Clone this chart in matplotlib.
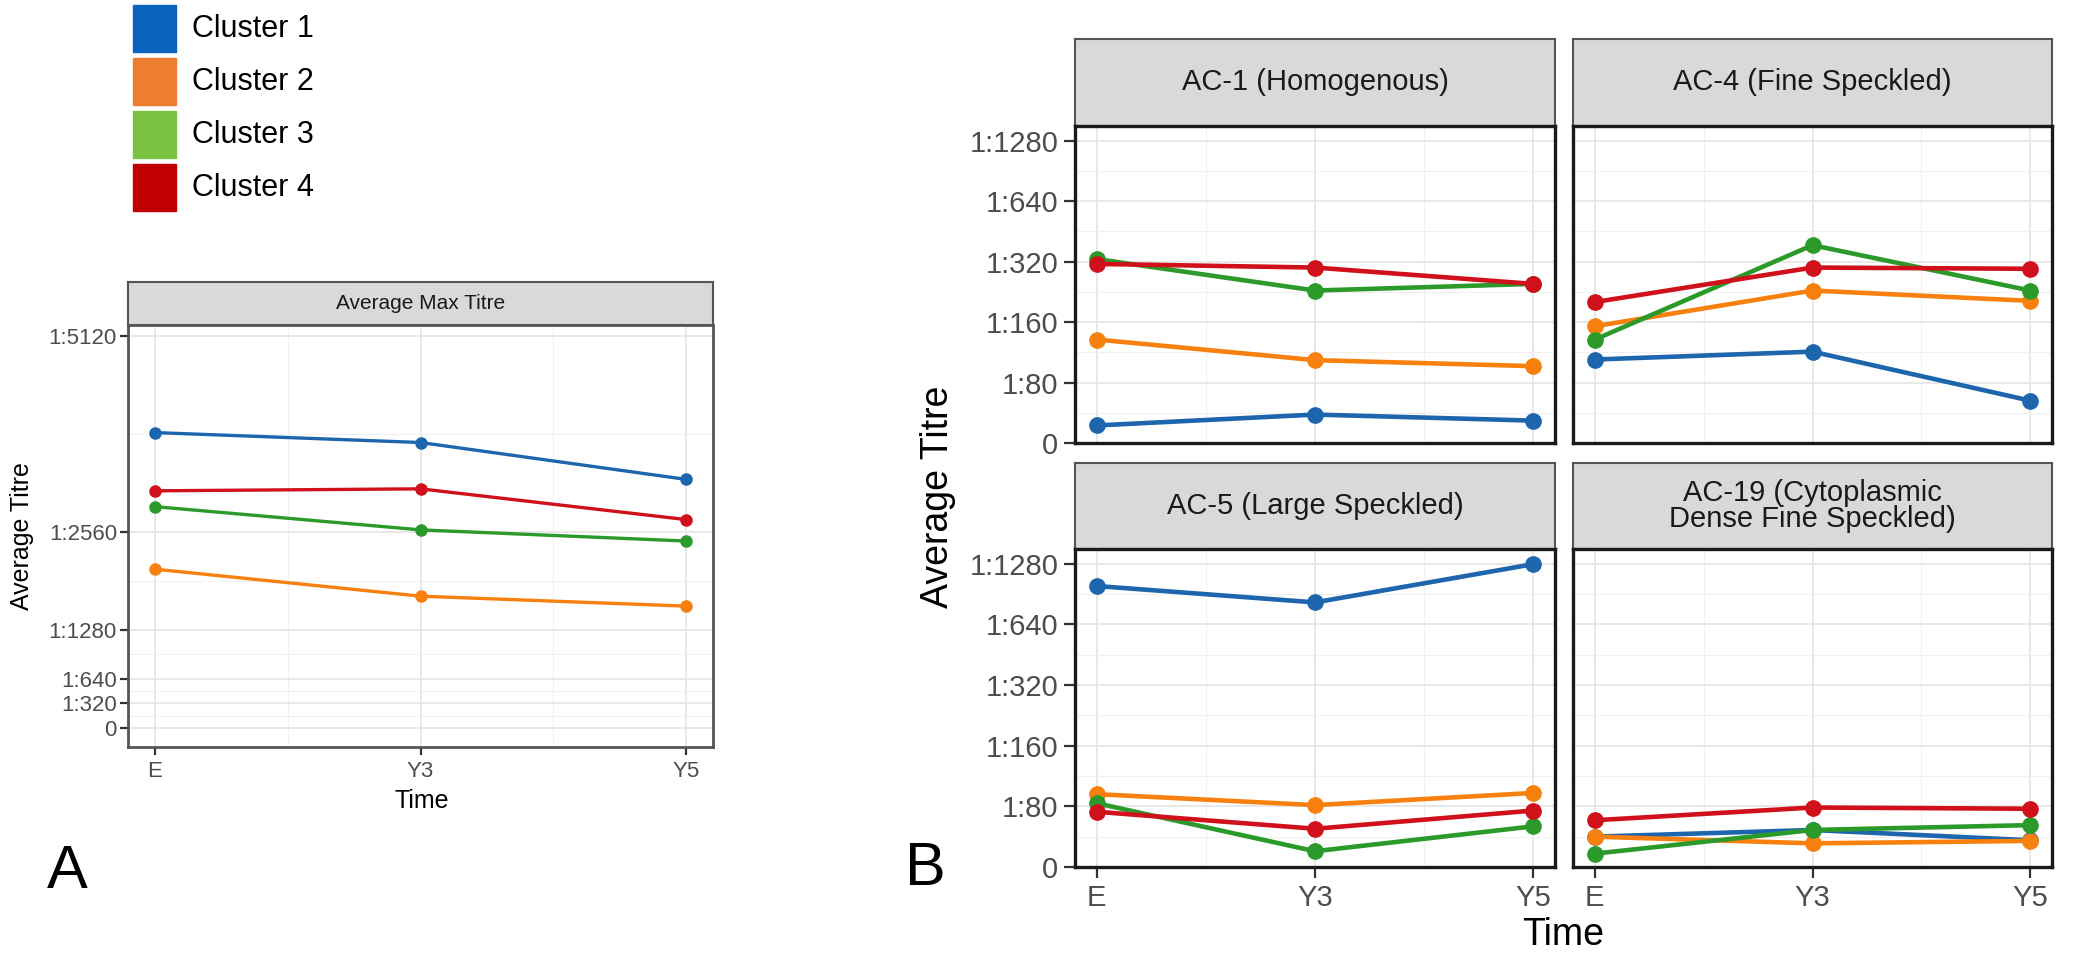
import matplotlib
matplotlib.use("Agg")
from matplotlib import pyplot as plt
from matplotlib.patches import Rectangle
import numpy as np

plt.rcParams['font.family'] = ['Liberation Sans', 'DejaVu Sans']

#### Data
Time_Points = ['E', 'Y3', 'Y5']
Clusters = ['Cluster 1', 'Cluster 2', 'Cluster 3', 'Cluster 4']
Legend_Colors = ['#0a64c0', '#ed7d31', '#7cc242', '#c00000']
Line_Colors = ['#1d65ad', '#f8800f', '#2b9a2b', '#d0101a']

# Panel A: average max titre (reciprocal dilution), one list per cluster
MaxTitre_C1 = [3857, 3727, 3245]
MaxTitre_C2 = [2073, 1720, 1590]
MaxTitre_C3 = [2890, 2586, 2440]
MaxTitre_C4 = [3096, 3122, 2720]
A_Ticks = [0, 320, 640, 1280, 2560, 5120]
A_Tick_Labels = ['0', '1:320', '1:640', '1:1280', '1:2560', '1:5120']

# Panel B: average titre on the dilution step axis (0, 1:80, 1:160, ...)
B_Ticks = [0, 1, 2, 3, 4, 5]
B_Tick_Labels = ['0', '1:80', '1:160', '1:320', '1:640', '1:1280']
Pattern_Names = ['AC-1 (Homogenous)', 'AC-4 (Fine Speckled)',
                 'AC-5 (Large Speckled)', 'AC-19 (Cytoplasmic\nDense Fine Speckled)']
AC1 = [[0.29, 0.47, 0.37], [1.71, 1.37, 1.27], [3.04, 2.52, 2.63], [2.96, 2.90, 2.63]]
AC4 = [[1.38, 1.51, 0.70], [1.93, 2.52, 2.35], [1.71, 3.27, 2.52], [2.33, 2.90, 2.88]]
AC5 = [[4.63, 4.36, 4.99], [1.20, 1.02, 1.22], [1.05, 0.26, 0.67], [0.91, 0.63, 0.93]]
AC19 = [[0.50, 0.61, 0.44], [0.50, 0.39, 0.43], [0.22, 0.61, 0.69], [0.77, 0.98, 0.96]]

#### Figure
W, H = 2085, 963
fig = plt.figure(figsize=(W / 100, H / 100), dpi=100)


def px_axes(x0, y0, x1, y1):
    return fig.add_axes([x0 / W, 1 - y1 / H, (x1 - x0) / W, (y1 - y0) / H])


def strip(x0, y0, x1, y1, label, fs):
    ax = px_axes(x0, y0, x1, y1)
    ax.set_facecolor('#d9d9d9')
    ax.set_xticks([])
    ax.set_yticks([])
    for s in ax.spines.values():
        s.set_color('#555555')
        s.set_linewidth(1.5)
    ax.text(0.5, 0.5, label, ha='center', va='center', fontsize=fs,
            color='#1a1a1a', linespacing=0.95, transform=ax.transAxes)
    return ax


def style_panel(ax, ticks, minor, tick_fs, tick_len, border_lw, border_c):
    ax.set_facecolor('white')
    ax.set_xticks([0, 1, 2])
    ax.set_xticks([0.5, 1.5], minor=True)
    ax.set_yticks(ticks)
    ax.set_yticks(minor, minor=True)
    ax.grid(which='major', color='#e6e6e6', lw=1.3)
    ax.grid(which='minor', color='#f0f0f0', lw=0.8)
    ax.set_axisbelow(True)
    ax.tick_params(which='major', length=tick_len, width=1.6, color='#333333',
                   labelsize=tick_fs, labelcolor='#4d4d4d')
    ax.tick_params(which='minor', length=0)
    for s in ax.spines.values():
        s.set_color(border_c)
        s.set_linewidth(border_lw)


#### Legend (top left)
leg = fig.add_axes([0, 0, 1, 1])
leg.set_xlim(0, W)
leg.set_ylim(H, 0)
leg.axis('off')
leg_tops = [5, 58, 111, 164]
for i in range(len(Clusters)):
    leg.add_patch(Rectangle((133, leg_tops[i]), 43, 47, color=Legend_Colors[i]))
    leg.text(192, leg_tops[i] + 24, Clusters[i], fontsize=22, va='center', ha='left')
leg.text(47, 888, 'A', fontsize=44, ha='left', va='baseline')
leg.text(905, 885, 'B', fontsize=44, ha='left', va='baseline')

#### Panel A
strip(128, 282, 713, 325, 'Average Max Titre', 15)
axA = px_axes(128, 325, 713, 747)
A_minor = [(A_Ticks[i] + A_Ticks[i + 1]) / 2 for i in range(len(A_Ticks) - 1)]
style_panel(axA, A_Ticks, A_minor, 16, 6, 2.0, '#555555')
axA.set_yticklabels(A_Tick_Labels)
axA.set_xticklabels(Time_Points)
axA.tick_params(axis='y', pad=2)
axA.tick_params(axis='x', pad=4)
for i, vals in enumerate([MaxTitre_C1, MaxTitre_C2, MaxTitre_C3, MaxTitre_C4]):
    axA.plot([0, 1, 2], vals, '-o', color=Line_Colors[i], lw=2.4, markersize=8)
axA.set_xlim(-0.1, 2.1)
axA.set_ylim(-250, 5262)
fig.text(422 / W, 1 - 801 / H, 'Time', fontsize=18, ha='center', va='center')
fig.text(22 / W, 1 - 536 / H, 'Average Titre', fontsize=18, ha='center', va='center',
         rotation=90)

#### Panel B
cols = [(1075, 1555), (1573, 2052)]
rows = [(39, 126, 443), (463, 549, 867)]
B_Data = [AC1, AC4, AC5, AC19]
B_minor = [0.5, 1.5, 2.5, 3.5, 4.5]
for k in range(4):
    r, c = divmod(k, 2)
    x0, x1 = cols[c]
    st, pt, pb = rows[r]
    strip(x0, st, x1, pt, Pattern_Names[k], 21)
    ax = px_axes(x0, pt, x1, pb)
    style_panel(ax, B_Ticks, B_minor, 21, 8, 2.4, '#1a1a1a')
    for i in range(len(Clusters)):
        ax.plot([0, 1, 2], B_Data[k][i], '-o', color=Line_Colors[i], lw=3.3,
                markersize=11)
    ax.set_xlim(-0.1, 2.1)
    ax.set_ylim(0, 5.24)
    if c == 0:
        ax.set_yticklabels(B_Tick_Labels)
        ax.tick_params(axis='y', pad=4)
    else:
        ax.tick_params(axis='y', length=0, labelleft=False)
    if r == 1:
        ax.set_xticklabels(Time_Points)
        ax.tick_params(axis='x', pad=4)
    else:
        ax.tick_params(axis='x', length=0, labelbottom=False)

fig.text(1563 / W, 1 - 935 / H, 'Time', fontsize=27, ha='center', va='center')
fig.text(938 / W, 1 - 497 / H, 'Average Titre', fontsize=27, ha='center', va='center',
         rotation=90)

plt.savefig('out.png', dpi=100)
